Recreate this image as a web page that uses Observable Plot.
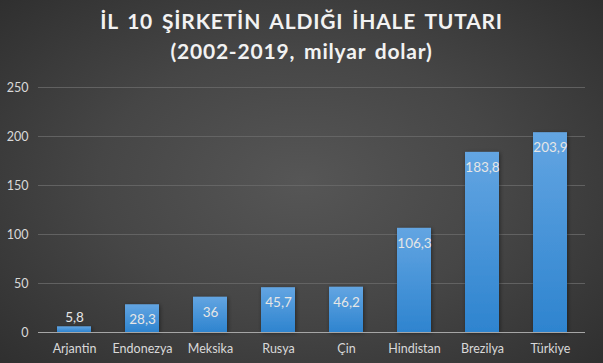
<!DOCTYPE html>
<html>
<head>
<meta charset="utf-8">
<script src="https://cdn.jsdelivr.net/npm/d3@7"></script>
<script src="https://cdn.jsdelivr.net/npm/@observablehq/plot@0.6"></script>
<style>
  html, body { margin: 0; padding: 0; background: #2b2b2b; }
  #wrap {
    width: 603px; height: 363px; position: relative; overflow: hidden;
    background: radial-gradient(ellipse 75% 80% at 50% 50%, #565656 0%, #464646 45%, #2b2b2b 100%);
    font-family: Lato, "Open Sans", sans-serif;
  }
  #title {
    position: absolute; left: 0; top: 6px; width: 603px; text-align: center;
    color: #f2f2f2; font-weight: bold; font-size: 21px; line-height: 30px;
    letter-spacing: 0.8px; word-spacing: 3px;
  }
  #chart { position: absolute; left: 0; top: 70px; }
</style>
</head>
<body>
<div id="wrap">
  <div id="title">İL 10 ŞİRKETİN ALDIĞI İHALE TUTARI<br>(2002-2019, milyar dolar)</div>
  <div id="chart"></div>
</div>
<script>
const countries = ["Arjantin", "Endonezya", "Meksika", "Rusya", "Çin", "Hindistan", "Brezilya", "Türkiye"];
const values = [5.8, 28.3, 36, 45.7, 46.2, 106.3, 183.8, 203.9];
const yTicks = [0, 50, 100, 150, 200, 250];

const data = countries.map((c, i) => ({country: c, value: values[i]}));
const fmt = v => String(v).replace(".", ",");

const plot = Plot.plot({
  width: 603,
  height: 293,
  marginTop: 17,
  marginBottom: 31,
  marginLeft: 38,
  marginRight: 18,
  style: {background: "transparent", fontFamily: "Lato, 'Open Sans', sans-serif", fontSize: "12.5px", color: "#d9d9d9"},
  x: {domain: countries, paddingInner: 0.5, paddingOuter: 0.25, label: null, tickSize: 0, tickPadding: 12},
  y: {domain: [0, 250], ticks: yTicks, label: null, tickSize: 0, tickPadding: 10},
  marks: [
    Plot.gridY(yTicks, {stroke: "#6a6a6a", strokeOpacity: 0.8, strokeWidth: 1}),
    Plot.barY(data, {x: "country", y: "value", fill: "url(#barGrad)"}),
    Plot.ruleY([0], {stroke: "#a6a6a6", strokeWidth: 1.2}),
    Plot.text(data.filter(d => d.value >= 20), {x: "country", y: "value", text: d => fmt(d.value), dy: 15, fill: "#e6e6e6", fontSize: 13.5}),
    Plot.text(data.filter(d => d.value < 20), {x: "country", y: "value", text: d => fmt(d.value), dy: -9, fill: "#e6e6e6", fontSize: 13.5})
  ]
});

const svg = d3.select(plot);
const defs = svg.insert("defs", ":first-child");
const g = defs.append("linearGradient").attr("id", "barGrad").attr("x1", 0).attr("y1", 0).attr("x2", 0).attr("y2", 1);
g.append("stop").attr("offset", "0%").attr("stop-color", "#63a5e2");
g.append("stop").attr("offset", "100%").attr("stop-color", "#2e84cf");
const f = defs.append("filter").attr("id", "shadow").attr("x", "-30%").attr("y", "-10%").attr("width", "160%").attr("height", "120%");
f.append("feDropShadow").attr("dx", 1).attr("dy", 1).attr("stdDeviation", 2).attr("flood-color", "#000").attr("flood-opacity", 0.45);
svg.selectAll("rect").attr("filter", "url(#shadow)");
svg.selectAll("[aria-label='x-axis tick label'] text, [aria-label='y-axis tick label'] text").attr("fill", "#d9d9d9");

document.getElementById("chart").appendChild(plot);
</script>
</body>
</html>
